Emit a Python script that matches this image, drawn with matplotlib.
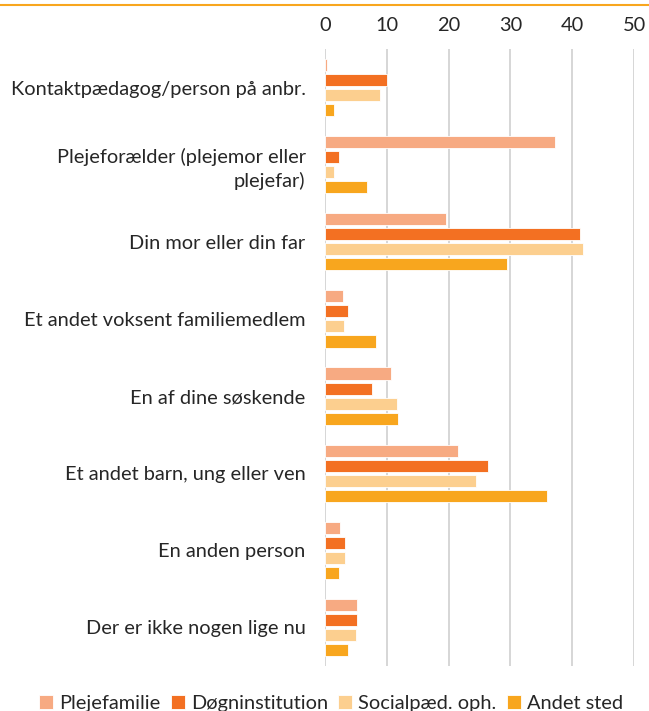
import matplotlib
matplotlib.use('Agg')
import matplotlib.pyplot as plt
from matplotlib.lines import Line2D
import numpy as np

plt.rcParams['font.family'] = ['Lato', 'DejaVu Sans']

# Data
kategorier = ['Kontaktpædagog/person på anbr.',
              'Plejeforælder (plejemor eller\nplejefar)',
              'Din mor eller din far',
              'Et andet voksent familiemedlem',
              'En af dine søskende',
              'Et andet barn, ung eller ven',
              'En anden person',
              'Der er ikke nogen lige nu']
serier = ['Plejefamilie', 'Døgninstitution', 'Socialpæd. oph.', 'Andet sted']
plejefamilie = [0.3, 37.2, 19.5, 2.9, 10.7, 21.6, 2.4, 5.1]
doegninst = [10.1, 2.3, 41.3, 3.8, 7.6, 26.3, 3.2, 5.2]
socialpaed = [8.9, 1.5, 41.7, 3.1, 11.7, 24.5, 3.2, 5.0]
andet_sted = [1.45, 6.8, 29.5, 8.2, 11.8, 36.0, 2.3, 3.7]
xticks = [0, 10, 20, 30, 40, 50]

farver = ['#F7AA82', '#F37022', '#FCCF8F', '#F8A61E']
tekstfarve = '#262626'
fs = 14.4

fig = plt.figure(figsize=(6.49, 7.11), dpi=100)
ax = fig.add_axes([325 / 649, 45 / 711, 309 / 649, 617 / 711])

y = np.arange(len(kategorier))
slot = 0.195
hoejde = 0.156
for i, (navn, vaerdier) in enumerate(zip(serier, [plejefamilie, doegninst, socialpaed, andet_sted])):
    ax.barh(y + (i - 1.5) * slot, vaerdier, height=hoejde, color=farver[i],
            edgecolor='white', linewidth=0.6, label=navn, zorder=3)

ax.set_xlim(0, 50)
ax.set_ylim(len(kategorier) - 0.5, -0.5)
ax.set_xticks(xticks)
ax.set_yticks(y)
ax.set_yticklabels(kategorier)
for t in ax.get_yticklabels():
    t.set_linespacing(1.4)

ax.xaxis.tick_top()
ax.tick_params(axis='x', length=0, pad=11, labelsize=fs, labelcolor=tekstfarve)
ax.tick_params(axis='y', length=0, pad=14, labelsize=fs, labelcolor=tekstfarve)
ax.grid(axis='x', color='#D0D0D0', linewidth=1.2, zorder=0)
for s in ax.spines.values():
    s.set_visible(False)

# orange streg i toppen
fig.add_artist(Line2D([0, 1], [1 - 4.5 / 711, 1 - 4.5 / 711], color='#F8A61E', linewidth=1.5))

fig.legend(loc='lower center', bbox_to_anchor=(0.51, -0.027), ncol=4, frameon=False,
           fontsize=fs, handlelength=0.7, handleheight=0.7, handletextpad=0.3,
           columnspacing=0.52, labelcolor=tekstfarve)

fig.savefig('out.png', dpi=100)
plt.close(fig)
